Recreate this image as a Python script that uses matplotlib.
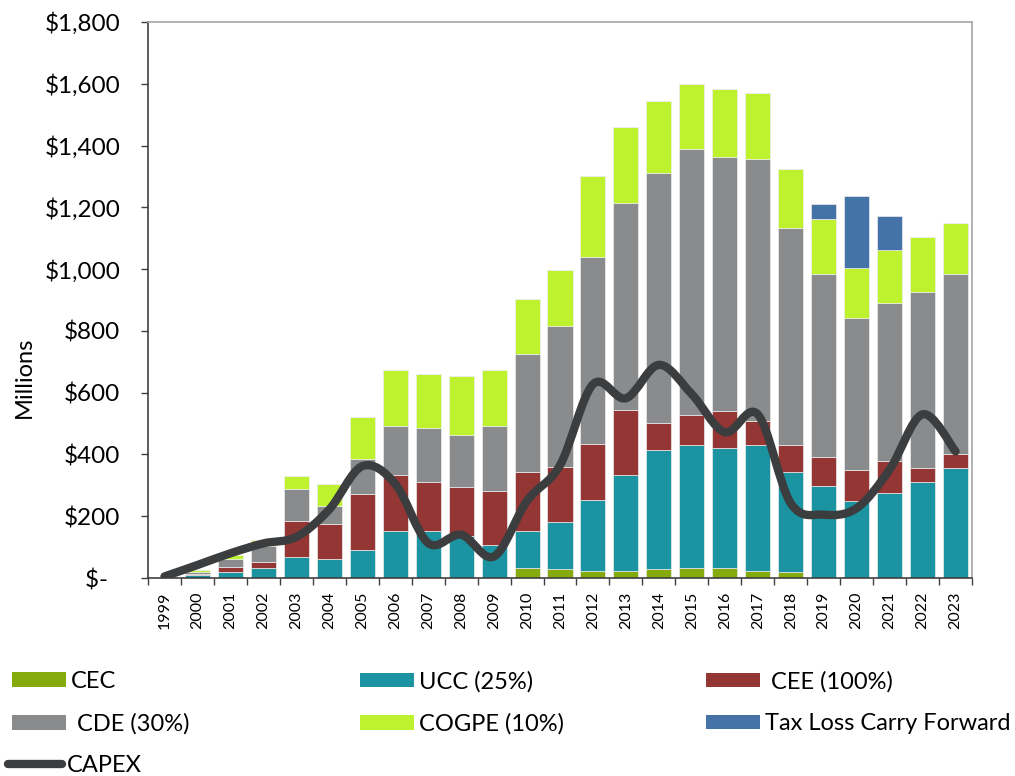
import matplotlib
matplotlib.use('Agg')
import matplotlib.pyplot as plt
from matplotlib.path import Path
from matplotlib.patches import PathPatch, Patch
from matplotlib.lines import Line2D
import numpy as np

plt.rcParams['font.family'] = ['Lato', 'DejaVu Sans']

years = [str(y) for y in range(1999, 2024)]

# tax pools, $ millions
cec = [0, 0, 0, 0, 0, 0, 0, 0, 0, 0, 0, 31, 28, 24, 22, 30, 31, 31, 24, 19, 0, 0, 0, 0, 0]
ucc = [0, 9, 21, 32, 68, 62, 91, 151, 153, 135, 108, 122, 154, 229, 313, 386, 400, 389, 408, 325, 297, 250, 275, 311, 355]
cee = [0, 5, 14, 21, 115, 112, 180, 181, 157, 159, 173, 189, 176, 181, 209, 85, 96, 120, 75, 88, 96, 100, 104, 46, 47]
cde = [0, 7, 25, 49, 104, 58, 115, 159, 175, 168, 212, 384, 457, 606, 670, 809, 861, 823, 850, 700, 592, 492, 512, 569, 582]
cogpe = [3, 6, 15, 22, 44, 73, 136, 182, 174, 191, 179, 176, 182, 262, 247, 234, 212, 219, 212, 192, 177, 160, 170, 177, 164]
tlcf = [0, 0, 0, 0, 0, 0, 0, 0, 0, 0, 0, 0, 0, 0, 0, 0, 0, 0, 0, 0, 49, 236, 110, 0, 0]
capex = [5, 42, 80, 112, 133, 222, 362, 305, 113, 140, 70, 250, 365, 627, 582, 690, 595, 472, 530, 242, 205, 226, 351, 530, 410]

series = [
    ('CEC', cec, '#84AA0C'),
    ('UCC (25%)', ucc, '#1C93A0'),
    (' CEE (100%)', cee, '#943634'),
    (' CDE (30%)', cde, '#8A8B8D'),
    ('COGPE (10%)', cogpe, '#BEF22E'),
    ('Tax Loss Carry Forward', tlcf, '#4573A8'),
]
capex_color = '#3C3D3F'

W, H = 1015, 776
fig = plt.figure(figsize=(W / 100, H / 100), dpi=100)
ax = fig.add_axes([148 / W, 198 / H, 824 / W, 556 / H])

x = np.arange(len(years))
bottom = np.zeros(len(years))
handles = {}
for name, vals, col in series:
    vals = np.array(vals, dtype=float)
    ax.bar(x, vals, 0.76, bottom=bottom, color=col, edgecolor='#EDEDED', linewidth=0.5, zorder=2)
    bottom += vals
    handles[name] = Patch(facecolor=col)

# smoothed CAPEX curve (cubic bezier segments through each year's value)
pts = np.column_stack([x, capex]).astype(float)
ext = np.vstack([pts[0], pts, pts[-1]])
verts = [tuple(pts[0])]
codes = [Path.MOVETO]
for i in range(len(pts) - 1):
    p0, p1, p2, p3 = ext[i], ext[i + 1], ext[i + 2], ext[i + 3]
    c1 = p1 + (p2 - p0) / 6
    c2 = p2 - (p3 - p1) / 6
    verts += [tuple(c1), tuple(c2), tuple(p2)]
    codes += [Path.CURVE4] * 3
ax.add_patch(PathPatch(Path(verts, codes), fill=False, edgecolor=capex_color, lw=6,
                       capstyle='round', joinstyle='round', zorder=3))
handles['CAPEX'] = Line2D([], [], color=capex_color, lw=6, solid_capstyle='round')

ax.set_xlim(-0.5, len(years) - 0.5)
ax.set_ylim(0, 1800)
yt = np.arange(0, 1801, 200)
ax.set_yticks(yt)
ax.set_yticklabels(['$-  '] + ['${:,}'.format(v) for v in yt[1:]], fontsize=17.5)
ax.tick_params(axis='y', direction='out', length=5, width=1, pad=15, color='#404040')
ax.set_xticks(x)
ax.set_xticklabels(years, rotation=90, fontsize=11.5)
ax.set_xticks(np.arange(-0.5, len(years), 1), minor=True)
ax.tick_params(axis='x', which='major', length=0, pad=10)
ax.tick_params(axis='x', which='minor', direction='out', length=5, width=1, color='#404040')
ax.set_ylabel('Millions', fontsize=17)
ax.yaxis.set_label_coords(-0.137, 0.3615)

for s in ['left', 'bottom']:
    ax.spines[s].set_color('#404040')
    ax.spines[s].set_linewidth(1.2)
for s in ['top', 'right']:
    ax.spines[s].set_color('#A6A6A6')
    ax.spines[s].set_linewidth(1.2)

# legend entries laid out on a 3-column grid under the chart
entries = [
    ('CEC', 0, 0), ('UCC (25%)', 1, 0), (' CEE (100%)', 2, 0),
    (' CDE (30%)', 0, 1), ('COGPE (10%)', 1, 1), ('Tax Loss Carry Forward', 2, 1),
    ('CAPEX', 0, 2),
]
col_x = [12, 360, 706]
row_y = [681.5, 724, 765]
fs = 17
for lab, c, r in entries:
    is_line = lab == 'CAPEX'
    fig.legend(handles=[handles[lab]], labels=[lab], loc='center left',
               bbox_to_anchor=((col_x[c] - (4 if is_line else 0)) / W, 1 - row_y[r] / H),
               frameon=False, borderpad=0, borderaxespad=0, fontsize=fs,
               handlelength=2.3, handleheight=0.57, handletextpad=0.2)

fig.savefig('out.png', dpi=100)
